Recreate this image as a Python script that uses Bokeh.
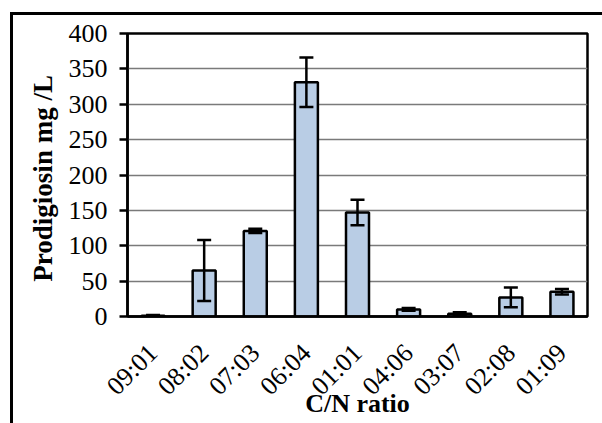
from bokeh.plotting import figure
from bokeh.models import ColumnDataSource, FactorRange, Whisker, TeeHead, SingleIntervalTicker
from bokeh.embed import file_html
from bokeh.resources import INLINE
import math

categories = ["09:01", "08:02", "07:03", "06:04", "01:01", "04:06", "03:07", "02:08", "01:09"]
values = [1, 65, 121, 331, 147, 10, 4, 27, 35]
errors = [1, 43, 3, 35, 18, 2, 2, 14, 4]

upper = [v + e for v, e in zip(values, errors)]
lower = [max(v - e, 0) for v, e in zip(values, errors)]

src = ColumnDataSource(dict(x=categories, top=values, upper=upper, lower=lower))

FONT = "Liberation Serif"

p = figure(x_range=FactorRange(factors=categories, range_padding=0),
           y_range=(0, 400),
           frame_width=460, frame_height=283,
           min_border_left=114, min_border_right=18,
           min_border_top=18, min_border_bottom=107,
           output_backend="svg", toolbar_location=None,
           background_fill_color="white", border_fill_color="white")
p.styles = {"margin-left": "10px", "margin-top": "12px",
            "border-left": "3px solid black", "border-top": "3px solid black"}

p.vbar(x="x", top="top", width=0.45, source=src,
       fill_color="#B9CDE5", line_color="black", line_width=2.5)

w = Whisker(source=src, base="x", upper="upper", lower="lower",
            line_color="black", line_width=2.5, level="overlay",
            upper_head=TeeHead(size=14, line_color="black", line_width=2.5),
            lower_head=TeeHead(size=14, line_color="black", line_width=2.5))
p.add_layout(w)

p.outline_line_color = "black"
p.outline_line_width = 2.5

p.xgrid.grid_line_color = None
p.ygrid.grid_line_color = "#7a7a7a"
p.ygrid.grid_line_width = 1.5
p.yaxis.ticker = SingleIntervalTicker(interval=50)

for ax in (p.xaxis[0], p.yaxis[0]):
    ax.axis_line_color = "black"
    ax.axis_line_width = 2.5
    ax.major_label_text_font = FONT
    ax.major_label_text_font_size = "26px"
    ax.major_label_text_color = "black"
    ax.axis_label_text_font = FONT
    ax.axis_label_text_font_style = "bold"
    ax.axis_label_text_color = "black"
    ax.minor_tick_line_color = None

p.yaxis.major_tick_in = 0
p.yaxis.major_tick_out = 8
p.yaxis.major_tick_line_width = 2.5
p.yaxis.major_tick_line_color = "black"
p.yaxis.major_label_standoff = 12
p.yaxis.axis_label = "Prodigiosin  mg /L"
p.yaxis.axis_label_text_font_size = "27px"
p.yaxis.axis_label_standoff = 8

p.xaxis.major_tick_line_color = None
p.xaxis.major_label_orientation = math.pi / 4
p.xaxis.major_label_standoff = 26
p.xaxis.axis_label = "C/N ratio"
p.xaxis.axis_label_text_font_size = "26px"
p.xaxis.axis_label_standoff = -25

open("out.html", "w").write(file_html(p, INLINE))
